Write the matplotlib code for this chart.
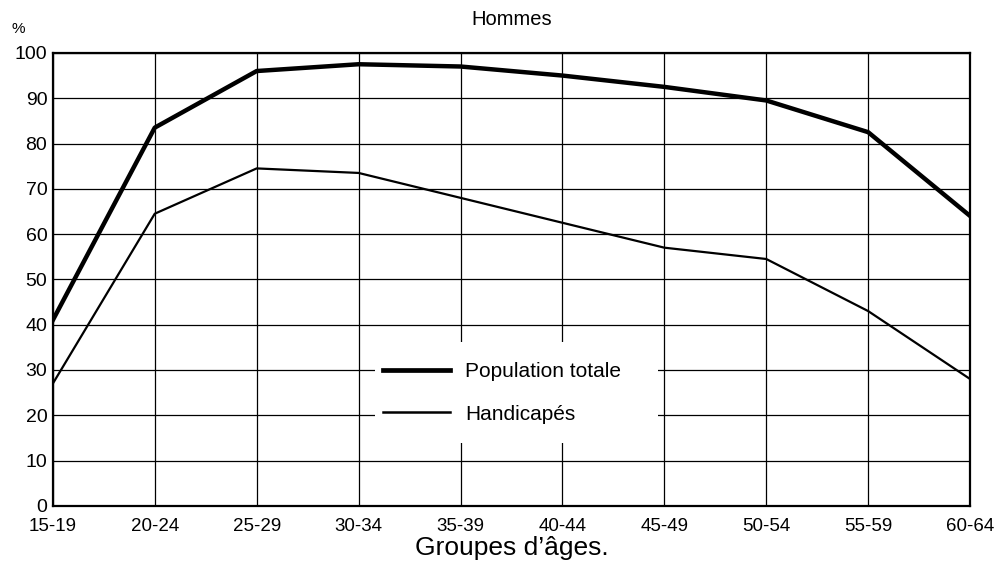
import matplotlib.pyplot as plt
from matplotlib.lines import Line2D
from matplotlib.patches import Rectangle

plt.rcParams['font.family'] = ['Liberation Sans', 'DejaVu Sans']

# Taux d'activité des hommes par groupe d'âges
age_groups = ['15-19', '20-24', '25-29', '30-34', '35-39',
              '40-44', '45-49', '50-54', '55-59', '60-64']
population_totale = [41, 83.5, 96, 97.5, 97, 95, 92.5, 89.5, 82.5, 64]
handicapes = [27, 64.5, 74.5, 73.5, 68, 62.5, 57, 54.5, 43, 28]
y_ticks = list(range(0, 101, 10))

fig = plt.figure(figsize=(9.97, 5.69), dpi=100)
ax = fig.add_axes([0.053, 0.111, 0.920, 0.796])

x = list(range(len(age_groups)))
ax.plot(x, population_totale, color='black', lw=3.2, zorder=3)
ax.plot(x, handicapes, color='black', lw=1.6, zorder=3)

ax.set_xlim(0, len(age_groups) - 1)
ax.set_ylim(0, 100)
ax.set_xticks(x)
ax.set_xticklabels(age_groups, fontsize=13.5)
ax.set_yticks(y_ticks)
ax.set_yticklabels([str(v) for v in y_ticks], fontsize=14)
ax.tick_params(axis='x', length=0, pad=8.5)
ax.tick_params(axis='y', length=0, pad=4)
ax.grid(True, color='black', lw=0.9)
ax.set_axisbelow(True)
for s in ax.spines.values():
    s.set_linewidth(1.6)

ax.set_title('Hommes', fontsize=14.5, pad=20)
ax.set_xlabel('Groupes d\u2019âges.', fontsize=19, labelpad=1)
fig.text(0.012, 0.942, '%', fontsize=11)

# blanc derrière la légende (coupe la grille)
ax.add_patch(Rectangle((0.351, 0.139), 0.309, 0.223, transform=ax.transAxes,
                       facecolor='white', edgecolor='none', zorder=1))

handles = [Line2D([], [], color='black', lw=3.4), Line2D([], [], color='black', lw=1.8)]
leg = ax.legend(handles, ['Population totale', 'Handicapés'], loc='upper left',
                bbox_to_anchor=(0.3599, 0.318), fontsize=15, handlelength=3.2,
                handletextpad=0.75, labelspacing=1.15, borderpad=0, borderaxespad=0,
                frameon=False)
leg.set_zorder(5)

fig.savefig('out.png', dpi=100)
